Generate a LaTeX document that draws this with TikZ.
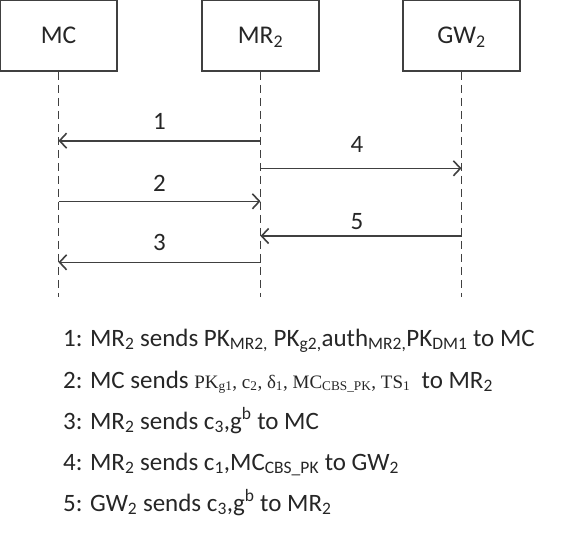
\documentclass[tikz,border=0pt]{standalone}
\usepackage{fontspec}
\setmainfont{Carlito}
\newfontfamily\timesfont{Liberation Serif}
\usetikzlibrary{arrows.meta}
\definecolor{linegray}{HTML}{404040}
\tikzset{
	actor/.style={draw=linegray, line width=1.5pt, minimum width=117pt, minimum height=71pt, inner sep=0pt, text height=18pt, text depth=1.4pt, font=\fontsize{25.5}{30}\selectfont, text=black!85},
	life/.style={draw=linegray, line width=1.6pt, dash pattern=on 8pt off 5pt},
	msg/.style={draw=linegray, line width=1.6pt, -{Straight Barb[length=7pt,width=15pt,line width=1.6pt]}},
	num/.style={font=\fontsize{25}{30}\selectfont, text=black!85},
	msgtext/.style={anchor=base west, inner sep=0pt, font=\fontsize{25}{30}\selectfont, text=black!85}
}
\newcommand{\tsmall}[1]{{\timesfont\fontsize{19}{22}\selectfont #1}}
\begin{document}
\begin{tikzpicture}[x=1pt,y=-1pt]
				\useasboundingbox (0,0) rectangle (566,533);
				\node [actor] (mc) at (58.5,35.5) {MC};
				\node [actor] (mr) at (260.5,35.5) {MR\textsubscript{2}};
				\node [actor] (gw) at (461.5,35.5) {GW\textsubscript{2}};
				\coordinate (mcend) at (mc.south |- 0,297);
				\coordinate (mrend) at (mr.south |- 0,297);
				\coordinate (gwend) at (gw.south |- 0,297);
				\draw [life] (mc.south) -- (mcend);
				\draw [life] (mr.south) -- (mrend);
				\draw [life] (gw.south) -- (gwend);
				\draw [msg] (mr.south |- 0,140.7) -- (mc.south |- 0,140.7) node [num, midway, yshift=19pt] (n1) {1};
				\draw [msg] (mr.south |- 0,168.3) -- (gw.south |- 0,168.3) node [num, midway, yshift=24pt, xshift=-4pt] (n4) {4};
				\draw [msg] (mc.south |- 0,201.3) -- (mr.south |- 0,201.3) node [num, midway, yshift=18pt] (n2) {2};
				\draw [msg] (gw.south |- 0,236) -- (mr.south |- 0,236) node [num, midway, yshift=14pt, xshift=-4pt] (n5) {5};
				\draw [msg] (mr.south |- 0,262.3) -- (mc.south |- 0,262.3) node [num, midway, yshift=20pt] (n3) {3};
				\node [msgtext] (t1) at (63,346) {1: MR\textsubscript{2} sends PK\textsubscript{MR2,} PK\textsubscript{g2,}auth\textsubscript{MR2,}PK\textsubscript{DM1} to MC};
				\node [msgtext] (t2) at (63,388) {2: MC sends \tsmall{PK\textsubscript{g1}, c\textsubscript{2}, δ\textsubscript{1}, MC\textsubscript{CBS\_PK}, TS\textsubscript{1}}\ \ to MR\textsubscript{2}};
				\node [msgtext] (t3) at (63,429) {3: MR\textsubscript{2} sends c\textsubscript{3},g\textsuperscript{b} to MC};
				\node [msgtext] (t4) at (63,470) {4: MR\textsubscript{2} sends c\textsubscript{1},MC\textsubscript{CBS\_PK} to GW\textsubscript{2}};
				\node [msgtext] (t5) at (63,511) {5: GW\textsubscript{2} sends c\textsubscript{3},g\textsuperscript{b} to MR\textsubscript{2}};
\end{tikzpicture}
\end{document}
